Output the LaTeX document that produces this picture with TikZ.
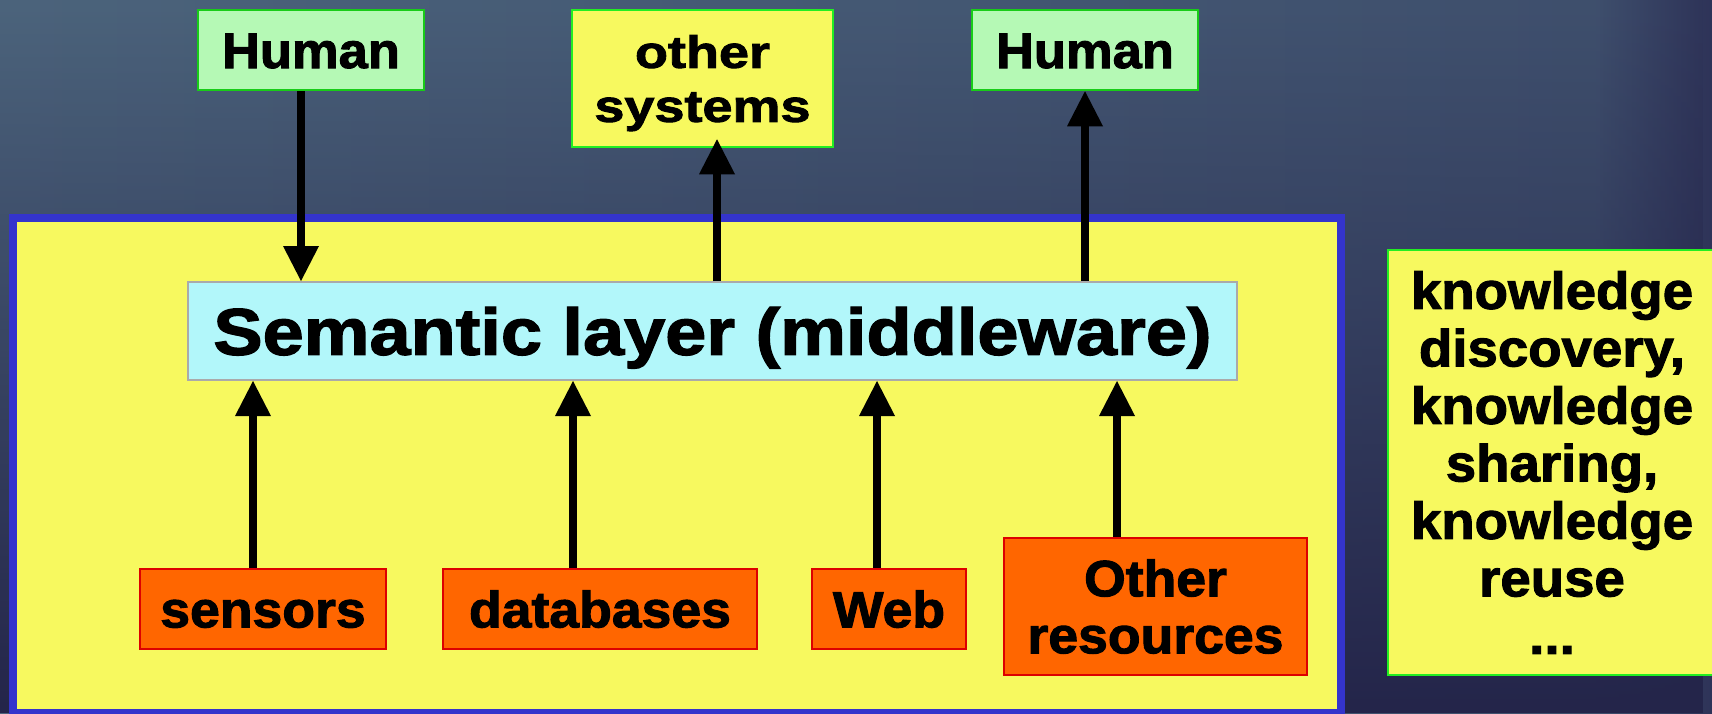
\documentclass[tikz,border=0pt]{standalone}
\usepackage{fontspec}
\usetikzlibrary{arrows.meta,fadings}

% Heavy sans faces, slightly widened
\newfontfamily\fontnarrow[FakeStretch=1.05,FakeBold=2]{Liberation Sans}
\newfontfamily\fontmid[FakeStretch=1.12,FakeBold=2]{Liberation Sans}
\newfontfamily\fontwide[FakeStretch=1.2,FakeBold=2]{Liberation Sans}

\definecolor{bgleft}{HTML}{4C647C}
\definecolor{bgmid}{HTML}{44576F}
\definecolor{bgright}{HTML}{3E4E6C}
\definecolor{bgnavy}{HTML}{2E3358}
\definecolor{bgdeep}{HTML}{24254A}
\definecolor{panelyellow}{HTML}{F7F95F}
\definecolor{panelblue}{HTML}{3434CC}
\definecolor{semfill}{HTML}{B2F7FA}
\definecolor{semline}{HTML}{AAAAAA}
\definecolor{humanfill}{HTML}{B5F9B5}
\definecolor{humanline}{HTML}{18CC18}
\definecolor{brightgreen}{HTML}{22EE22}
\definecolor{srcfill}{HTML}{FF6600}
\definecolor{srcline}{HTML}{DD0000}

\tikzfading[name=darkbelow, top color=transparent!100, middle color=transparent!80, bottom color=transparent!0]

\begin{document}
\begin{tikzpicture}[x=1pt,y=-1pt,
  box/.style={draw, line width=2.5pt, inner sep=0pt, align=center, text=black},
  humanbox/.style={box, fill=humanfill, draw=humanline,
    font=\fontnarrow\bfseries\fontsize{50pt}{55pt}\selectfont,
    text height=36pt, text depth=0pt},
  sysbox/.style={box, fill=panelyellow, draw=brightgreen,
    font=\fontwide\bfseries\fontsize{45pt}{54pt}\selectfont, text depth=0pt},
  srcbox/.style={box, fill=srcfill, draw=srcline,
    font=\fontnarrow\bfseries\fontsize{51pt}{57pt}\selectfont},
  srcone/.style={srcbox, text height=36.7pt, text depth=0pt},
  semlayer/.style={box, line width=2pt, fill=semfill, draw=semline,
    font=\fontmid\bfseries\fontsize{66pt}{72pt}\selectfont,
    text height=47.5pt, text depth=0pt},
  knowbox/.style={box, fill=panelyellow, draw=brightgreen,
    font=\fontnarrow\bfseries\fontsize{52pt}{57.5pt}\selectfont},
  container/.style={draw=panelblue, fill=panelyellow, line width=8pt, inner sep=0pt},
  arr/.style={line width=8pt, -{Triangle[width=36pt,length=35pt,line width=0pt]}}
]
\useasboundingbox (0,0) rectangle (1712,713);

% backdrop
\shade[left color=bgleft, middle color=bgmid, right color=bgright] (0,0) rectangle (1712,713);
\shade[left color=bgright, right color=bgnavy] (1600,0) rectangle (1712,713);
\fill[bgdeep, path fading=darkbelow] (0,0) rectangle (1712,713);

% outer panel holding the middleware and its sources
\node[container, minimum width=1328pt, minimum height=495pt] (panel) at (677,465.5) {};

% top row
\node[humanbox, minimum width=226pt, minimum height=80pt] (h1) at (311,50) {Human};
\node[sysbox, minimum width=261pt, minimum height=137pt] (os) at (702.5,78.5) {other\\systems};
\node[humanbox, minimum width=226pt, minimum height=80pt] (h2) at (1085,50) {Human};

% middleware layer
\node[semlayer, minimum width=1049pt, minimum height=98pt] (sem) at (712.5,331) {Semantic layer (middleware)};

% sources
\node[srcone, minimum width=246pt, minimum height=80pt] (sens) at (263,609) {sensors};
\node[srcone, minimum width=314pt, minimum height=80pt] (db) at (600,609) {databases};
\node[srcone, minimum width=154pt, minimum height=80pt] (web) at (889,609) {Web};
\node[srcbox, minimum width=303pt, minimum height=137pt] (ores) at (1155.5,606.5) {Other\\resources};

% side note
\node[knowbox, minimum width=328pt, minimum height=425pt] (kn) at (1552,462.5)
  {knowledge\\discovery,\\knowledge\\sharing,\\knowledge\\reuse\\...};

% connectors
\draw[arr] ([xshift=-10pt]h1.south) -- ([xshift=-10pt]h1.south |- sem.north);
\draw[arr] ([xshift=14.5pt]os.south |- sem.north) -- ([xshift=14.5pt,yshift=9pt]os.south);
\draw[arr] (h2.south |- sem.north) -- (h2.south);

\draw[arr] ([xshift=-10pt]sens.north) -- ([xshift=-10pt]sens.north |- sem.south);
\draw[arr] ([xshift=-27pt]db.north) -- ([xshift=-27pt]db.north |- sem.south);
\draw[arr] ([xshift=-12pt]web.north) -- ([xshift=-12pt]web.north |- sem.south);
\draw[arr] ([xshift=-38.5pt]ores.north) -- ([xshift=-38.5pt]ores.north |- sem.south);
\end{tikzpicture}
\end{document}
